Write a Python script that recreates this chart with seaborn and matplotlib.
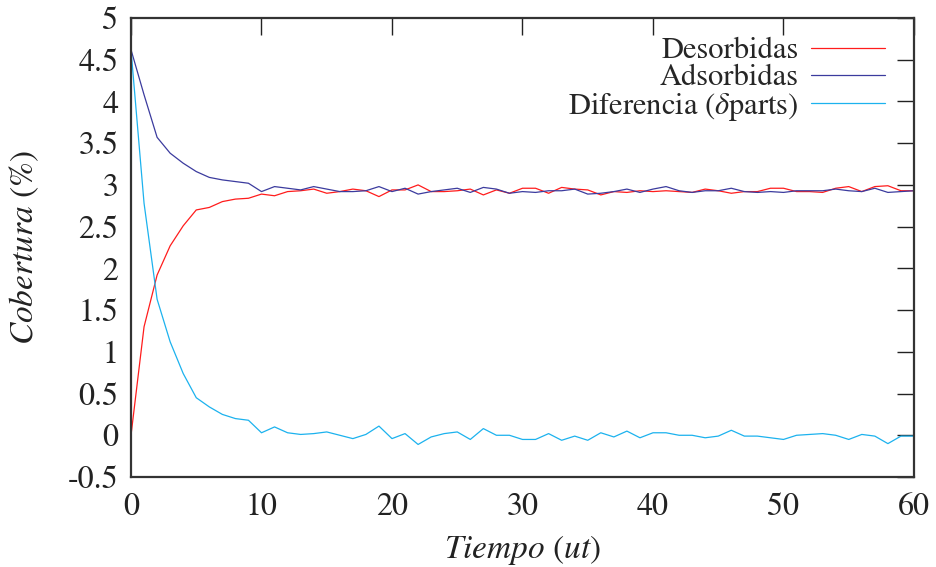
import numpy as np
import pandas as pd
import matplotlib
matplotlib.use("Agg")
import matplotlib.pyplot as plt
from matplotlib.ticker import FuncFormatter
import seaborn as sns

# Tiempo (ut) 0..60
tiempo = list(range(61))

desorbidas = [0.00, 1.30, 1.92, 2.27, 2.51, 2.70, 2.73, 2.80, 2.83, 2.84,
              2.89, 2.87, 2.92, 2.93, 2.95, 2.90, 2.92, 2.95, 2.93, 2.86,
              2.94, 2.94, 3.00, 2.92, 2.92, 2.93, 2.95, 2.88, 2.94, 2.90,
              2.96, 2.96, 2.90, 2.97, 2.95, 2.94, 2.88, 2.92, 2.91, 2.93,
              2.92, 2.93, 2.92, 2.91, 2.95, 2.93, 2.90, 2.92, 2.92, 2.96,
              2.96, 2.92, 2.92, 2.91, 2.96, 2.98, 2.92, 2.98, 2.99, 2.93,
              2.93]

adsorbidas = [4.62, 4.08, 3.57, 3.38, 3.26, 3.16, 3.09, 3.06, 3.04, 3.02,
              2.92, 2.98, 2.96, 2.94, 2.98, 2.95, 2.92, 2.92, 2.93, 2.98,
              2.92, 2.96, 2.89, 2.92, 2.94, 2.96, 2.91, 2.97, 2.95, 2.90,
              2.92, 2.91, 2.93, 2.93, 2.95, 2.89, 2.90, 2.92, 2.95, 2.91,
              2.95, 2.98, 2.93, 2.91, 2.93, 2.93, 2.96, 2.92, 2.91, 2.92,
              2.91, 2.93, 2.93, 2.93, 2.95, 2.93, 2.92, 2.96, 2.91, 2.92,
              2.93]

diferencia = [4.62, 2.78, 1.63, 1.12, 0.74, 0.45, 0.34, 0.25, 0.20, 0.18,
              0.03, 0.10, 0.03, 0.01, 0.02, 0.04, 0.00, -0.04, 0.01, 0.11,
              -0.04, 0.02, -0.11, -0.02, 0.02, 0.04, -0.05, 0.08, 0.00, 0.00,
              -0.05, -0.05, 0.02, -0.06, -0.01, -0.06, 0.03, -0.02, 0.05, -0.03,
              0.03, 0.03, 0.00, 0.00, -0.03, -0.01, 0.06, -0.01, -0.01, -0.03,
              -0.05, 0.00, 0.01, 0.02, 0.00, -0.05, 0.01, -0.01, -0.10, -0.01,
              -0.01]

series_names = ["Desorbidas", "Adsorbidas", r"Diferencia ($\delta$parts)"]
colors = ["#ff1c1c", "#3b3b9e", "#1cb2ee"]

df = pd.DataFrame({"t": tiempo,
                   series_names[0]: desorbidas,
                   series_names[1]: adsorbidas,
                   series_names[2]: diferencia})
long = df.melt(id_vars="t", var_name="serie", value_name="cob")

sns.set_theme(style="white")
plt.rcParams["font.family"] = ["STIXGeneral", "DejaVu Serif"]
plt.rcParams["mathtext.fontset"] = "stix"
plt.rcParams["axes.unicode_minus"] = False

fig = plt.figure(figsize=(9.37, 5.67), dpi=100)
ax = fig.add_axes([131 / 937, 1 - 477 / 567, (914 - 131) / 937, (477 - 18) / 567])

sns.lineplot(data=long, x="t", y="cob", hue="serie", hue_order=series_names,
             palette=colors, linewidth=0.9, ax=ax, legend=True)

ax.set_xlim(0, 60)
ax.set_ylim(-0.5, 5)
ax.set_xticks(range(0, 61, 10))
ax.set_yticks(np.arange(-0.5, 5.01, 0.5))
ax.yaxis.set_major_formatter(FuncFormatter(lambda v, p: "%g" % round(v, 2)))
ax.tick_params(direction="in", length=12, width=1.0, top=True, right=True,
               labelsize=23, colors="#222222", pad=9)
ax.tick_params(axis="x", pad=11)
for s in ax.spines.values():
    s.set_linewidth(1.6)
    s.set_color("#333333")

ax.set_xlabel(r"$\it{Tiempo}$ ($\it{ut}$)", fontsize=24, color="#222222", labelpad=8)
ax.set_ylabel(r"$\it{Cobertura}$ (%)", fontsize=24, color="#222222", labelpad=19)

handles, labels = ax.get_legend_handles_labels()
ax.legend(handles, labels, loc="upper right", frameon=False, markerfirst=False,
          fontsize=22, handlelength=2.4, handletextpad=0.4, labelspacing=-0.05,
          borderaxespad=0.0, bbox_to_anchor=(0.978, 0.985))

fig.savefig("out.png", dpi=100)
